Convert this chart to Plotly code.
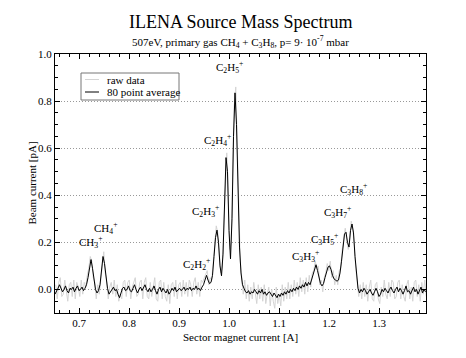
import numpy as np
import plotly.graph_objects as go

# ---------------- data ----------------
x_start = 0.652      # A, first sample
x_step = 0.003       # A, sampling step

avg_y = [
    -0.02, -0.01, 0.005, 0.02, 0.005, -0.01, 0.0, 0.015, -0.005, -0.015,
    0.005, 0.0, 0.01, -0.01, 0.005, 0.015, -0.005, 0.0, 0.01, -0.005,
    0.005,
    0.02, 0.05, 0.10, 0.127, 0.09, 0.035, 0.0, -0.015, -0.005, 0.02,
    0.07, 0.14, 0.11, 0.04, 0.005, -0.02,
    -0.01, 0.005, 0.01, -0.005, 0.0, -0.02, -0.035, -0.015, 0.005, 0.01,
    -0.005, 0.0, 0.015, -0.005, -0.01, 0.005, 0.02, 0.0, -0.015, 0.0,
    0.01, -0.005, 0.005, 0.02, 0.0, -0.01, 0.005, -0.01, 0.0, 0.015,
    -0.005, -0.02, 0.0, 0.01, -0.01, 0.005, -0.005, -0.015, 0.0, -0.02,
    -0.01, 0.005, -0.005, 0.01, -0.01, 0.0, 0.005, -0.005, 0.0, 0.01,
    -0.005, 0.005, 0.0, 0.01, -0.005, 0.005, 0.0, 0.015, 0.0, 0.005,
    -0.005, 0.01, 0.02,
    0.04, 0.06, 0.04, 0.025, 0.03, 0.06, 0.14, 0.22, 0.252, 0.2,
    0.1, 0.058, 0.15, 0.38, 0.56, 0.5, 0.25, 0.13, 0.3, 0.65,
    0.835, 0.7, 0.4, 0.18, 0.07, 0.02, 0.005, -0.01,
    -0.015, -0.005, -0.02, -0.01, -0.015, 0.0, -0.01, -0.02, -0.005, -0.015,
    0.0, -0.02, -0.01, -0.025, -0.015, -0.01, -0.02, -0.03, -0.015, -0.025,
    -0.035, -0.02, -0.03, -0.015, -0.025, -0.01, -0.02, -0.005, -0.015, 0.0,
    -0.01, 0.005, -0.005, 0.01, 0.0, 0.015, 0.005, 0.02, 0.01, 0.03,
    0.015, 0.03, 0.02, 0.04, 0.06, 0.09, 0.105, 0.08, 0.05, 0.025,
    0.015, 0.025, 0.05, 0.075, 0.095, 0.1, 0.085, 0.06, 0.045, 0.04,
    0.035, 0.04, 0.07, 0.12, 0.19, 0.235, 0.243, 0.2, 0.18, 0.25,
    0.278, 0.24, 0.14, 0.05, 0.005, -0.015,
    0.0, -0.01, 0.005, -0.005, -0.02, -0.01, 0.0, -0.015, -0.025, -0.01,
    0.005, -0.01, -0.03, -0.02, 0.0, -0.01, 0.005, -0.005, -0.015, 0.0,
    0.01, -0.005, -0.015, 0.0, 0.01, -0.01, 0.005, -0.005, -0.02, -0.005,
    0.015, -0.01, -0.005, -0.02, 0.0, 0.01, -0.01, 0.0, -0.02, -0.005,
    0.01, -0.015, 0.0, -0.01,
]

raw_x_start = 0.6535
raw_y = [
    0.02, -0.04, 0.03, 0.05, -0.03, -0.02, 0.04, -0.01, -0.05, 0.02,
    0.03, -0.03, 0.04, -0.04, 0.03, 0.01, -0.03, 0.04, -0.02, 0.03,
    0.01,
    0.06, 0.09, 0.14, 0.12, 0.05, 0.03, -0.04, 0.02, -0.02, 0.05,
    0.11, 0.16, 0.07, 0.03, -0.04, 0.01,
    0.03, -0.02, 0.04, -0.03, 0.02, -0.05, -0.02, -0.04, 0.03, 0.04,
    -0.03, 0.03, 0.04, -0.04, 0.01, 0.03, 0.05, -0.03, -0.02, 0.03,
    0.04, -0.04, 0.03, 0.05, -0.03, -0.04, 0.03, -0.03, 0.02, 0.05,
    -0.04, -0.05, 0.03, 0.04, -0.04, 0.03, -0.03, -0.05, 0.02, -0.06,
    0.02, 0.03, -0.03, 0.04, -0.04, 0.02, 0.03, -0.03, 0.04, -0.02,
    0.03, -0.03, 0.04, 0.02, -0.03, 0.03, 0.05, -0.02, 0.03, -0.03,
    0.04, 0.03, 0.05,
    0.07, 0.08, 0.02, 0.05, 0.04, 0.1, 0.19, 0.27, 0.24, 0.15,
    0.07, 0.09, 0.27, 0.48, 0.58, 0.4, 0.17, 0.2, 0.5, 0.78,
    0.86, 0.58, 0.27, 0.12, 0.05, -0.02, 0.04, -0.04,
    0.02, -0.05, 0.01, -0.04, 0.03, -0.03, -0.06, 0.02, -0.04, 0.01,
    -0.05, 0.02, -0.06, -0.02, 0.01, -0.07, 0.0, -0.05, -0.08, 0.01,
    -0.06, -0.02, -0.07, 0.02, -0.05, 0.01, -0.04, 0.03, -0.04, 0.02,
    -0.03, 0.04, -0.02, 0.03, -0.03, 0.05, -0.01, 0.04, -0.02, 0.05,
    -0.01, 0.06, 0.01, 0.07, 0.08, 0.12, 0.09, 0.1, 0.02, 0.04,
    -0.01, 0.05, 0.07, 0.11, 0.08, 0.12, 0.05, 0.08, 0.02, 0.06,
    0.02, 0.08, 0.09, 0.17, 0.22, 0.26, 0.21, 0.17, 0.22, 0.29,
    0.26, 0.2, 0.09, 0.03, -0.03, 0.02,
    -0.04, 0.03, -0.03, 0.02, -0.05, 0.01, 0.04, -0.04, -0.05, 0.02,
    0.03, -0.04, -0.06, 0.01, -0.03, 0.04, -0.02, -0.04, 0.03, -0.03,
    0.04, 0.03, -0.04, -0.03, 0.03, 0.04, -0.04, 0.02, -0.03, -0.05,
    0.02, 0.04, -0.04, 0.01, -0.05, 0.03, 0.04, -0.03, 0.02, -0.05,
    0.03, -0.02, 0.04, -0.03,
]

ion_labels = [
    "CH<sub>3</sub><sup>+</sup>", "CH<sub>4</sub><sup>+</sup>",
    "C<sub>2</sub>H<sub>2</sub><sup>+</sup>", "C<sub>2</sub>H<sub>3</sub><sup>+</sup>",
    "C<sub>2</sub>H<sub>4</sub><sup>+</sup>", "C<sub>2</sub>H<sub>5</sub><sup>+</sup>",
    "C<sub>3</sub>H<sub>3</sub><sup>+</sup>", "C<sub>3</sub>H<sub>5</sub><sup>+</sup>",
    "C<sub>3</sub>H<sub>7</sub><sup>+</sup>", "C<sub>3</sub>H<sub>8</sub><sup>+</sup>",
]
label_x = [0.722, 0.752, 0.934, 0.952, 0.976, 1.000, 1.152, 1.190, 1.216, 1.248]
label_y = [0.200, 0.263, 0.110, 0.335, 0.636, 0.945, 0.144, 0.216, 0.330, 0.428]

x_ticks = [0.7, 0.8, 0.9, 1.0, 1.1, 1.2, 1.3]
y_ticks = [0.0, 0.2, 0.4, 0.6, 0.8, 1.0]

# ---------------- figure ----------------
FONT = "Liberation Serif, Times New Roman, serif"
avg_x = x_start + x_step * np.arange(len(avg_y))
raw_x = raw_x_start + x_step * np.arange(len(raw_y))

fig = go.Figure()
fig.add_trace(go.Scatter(x=raw_x, y=raw_y, mode="lines",
                         line=dict(color="#d4d4d4", width=1), name="raw data"))
fig.add_trace(go.Scatter(x=avg_x, y=avg_y, mode="lines",
                         line=dict(color="black", width=1), name="80 point average"))

OFF = 8                       # page body margin
W, H = 466 - OFF, 358 - OFF
PL, PR, PT, PB = 55, 426, 54, 313   # plot area in page pixels
L, T = PL - OFF, PT - OFF
R, B = W + OFF - PR, H + OFF - PB

def px(xp):
    return (xp - PL) / (PR - PL)
def py(yp):
    return (PB - yp) / (PB - PT)

def txt(x, y, text, size=11, xref="paper", yref="paper", xanchor="center", angle=0):
    return dict(x=x, y=y, xref=xref, yref=yref, text=text, showarrow=False,
                xanchor=xanchor, yanchor="middle", textangle=angle,
                font=dict(family=FONT, size=size, color="black"))

ann = []
for t, xx, yy in zip(ion_labels, label_x, label_y):
    ann.append(txt(xx, yy, t, xref="x", yref="y"))

ann.append(txt(0.5, py(22), "ILENA Source Mass Spectrum", size=18))
ann.append(txt(0.5, py(42), "507eV, primary gas CH<sub>4</sub> + C<sub>3</sub>H<sub>8</sub>, "
                            "p= 9· 10<sup>-7</sup> mbar"))
ann.append(txt(0.5, py(337), "Sector magnet current [A]"))
ann.append(txt(px(31), 0.5, "Beam current [pA]", angle=-90))

# legend drawn manually
shapes = [
    dict(type="rect", xref="paper", yref="paper", x0=px(81), x1=px(179),
         y0=py(100), y1=py(73), line=dict(color="#777777", width=1),
         fillcolor="white", layer="above"),
    dict(type="line", xref="paper", yref="paper", x0=px(85), x1=px(99),
         y0=py(79.5), y1=py(79.5), line=dict(color="#d4d4d4", width=1), layer="above"),
    dict(type="line", xref="paper", yref="paper", x0=px(85), x1=px(99),
         y0=py(92), y1=py(92), line=dict(color="black", width=1), layer="above"),
]
ann.append(txt(px(105), py(79.5), "raw data", xanchor="left"))
ann.append(txt(px(105), py(92), "80 point average", xanchor="left"))

axis_common = dict(showline=True, linecolor="black", linewidth=1, mirror="allticks",
                   ticks="inside", ticklen=5, tickcolor="black", tickwidth=1,
                   tickfont=dict(family=FONT, size=11, color="black"),
                   zeroline=False, tickformat=".1f")

fig.update_layout(
    width=W, height=H, margin=dict(l=L, r=R, t=T, b=B, autoexpand=False),
    paper_bgcolor="white", plot_bgcolor="white", showlegend=False,
    annotations=ann, shapes=shapes,
    xaxis=dict(range=[0.652, 1.394], tickvals=x_ticks, showgrid=False,
               minor=dict(dtick=0.02, tick0=0.7, ticks="inside", ticklen=3,
                          tickcolor="black", showgrid=False),
               **axis_common),
    yaxis=dict(range=[-0.1, 1.0], tickvals=y_ticks, showgrid=True,
               gridcolor="#999999", griddash="1px,2px", gridwidth=1,
               minor=dict(dtick=0.05, tick0=0.0, ticks="inside", ticklen=3,
                          tickcolor="black", showgrid=False),
               **axis_common),
)

fig.write_html("out.html")
